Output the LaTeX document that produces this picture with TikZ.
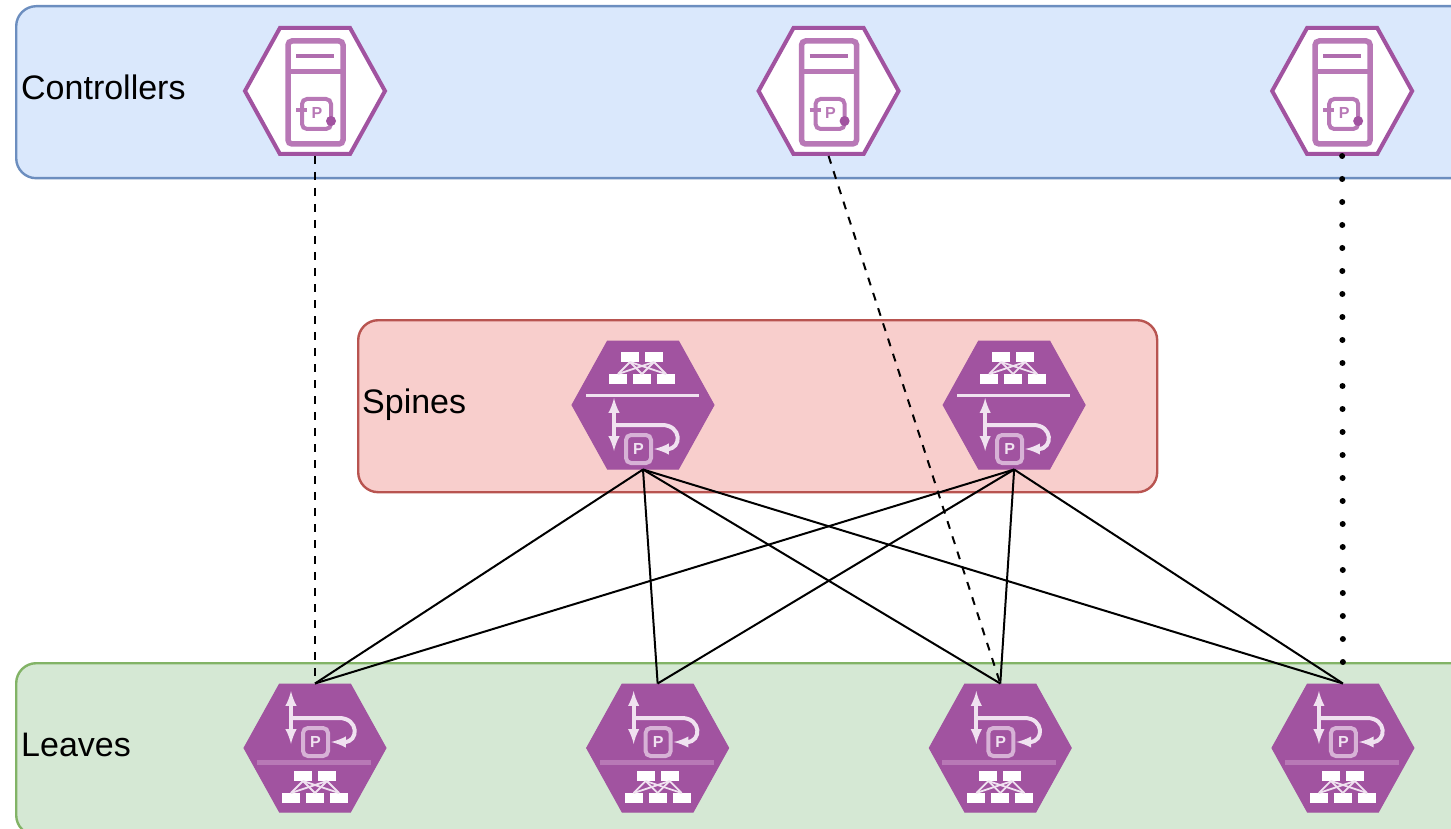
\documentclass[tikz,border=0pt]{standalone}
\usepackage{fontspec}
\setmainfont{Liberation Sans}
\usetikzlibrary{arrows,positioning,shapes.symbols}

\definecolor{hexpurple}{HTML}{A153A0}
\definecolor{iconlight}{HTML}{F0E2F0}
\definecolor{iconmid}{HTML}{B878B6}
\definecolor{ctrlfill}{HTML}{DAE8FC}
\definecolor{ctrlline}{HTML}{6C8EBF}
\definecolor{spinefill}{HTML}{F8CECC}
\definecolor{spineline}{HTML}{B85450}
\definecolor{leaffill}{HTML}{D5E8D4}
\definecolor{leafline}{HTML}{82B366}

\tikzset{
    pics/fabricicon/.style={code={
        \foreach \x in {-21,3} \fill[white] (\x,23) rectangle ++(18,10);
        \foreach \x in {-33,-9,15} \fill[white] (\x,45) rectangle ++(18,10);
        \foreach \a in {-12,12} \foreach \b in {-24,0,24}
            \draw[iconlight,line width=1.8pt] (\a,33) -- (\b,45);
    }},
    pics/routericon/.style={code={
        \draw[iconlight,line width=4pt,<->,>=latex] (-24,-57) -- (-24,-4);
        \draw[iconlight,line width=4pt,->,>=latex] (-24,-30) -- (24,-30)
            .. controls (44,-30) and (44,-6) .. (16,-6);
        \draw[iconmid!45!iconlight,line width=4pt,rounded corners=5pt] (-12,-20) rectangle (13,8);
        \node[iconlight,font=\fontsize{16}{18}\selectfont\bfseries,inner sep=0pt] (plabel) at (0.5,-6) {P};
    }},
    pics/servericon/.style={code={
        \draw[iconmid,line width=5.5pt,rounded corners=4pt] (-27,-50) rectangle (28,53);
        \draw[iconmid,line width=5pt] (-27,-19) -- (28,-19);
        \draw[hexpurple!85!white,line width=4pt] (-19,-35) -- (19,-35);
        \draw[iconmid,line width=4pt,rounded corners=5pt] (-13,8) rectangle (16,38);
        \draw[iconmid,line width=3.5pt] (-19,19) -- (-8,19);
        \fill[hexpurple] (16,30) circle (5pt);
        \node[iconmid,font=\fontsize{16}{18}\selectfont\bfseries,inner sep=0pt] (plabel) at (2,22) {P};
    }}
}

\begin{document}
\begin{tikzpicture}[
    x=1pt,y=-1pt,
    node distance=199.5pt,
    band/.style={rectangle,rounded corners=20pt,line width=2.4pt,anchor=north west,minimum height=172pt},
    hexnode/.style={shape=signal,signal to=east and west,signal pointer angle=122,draw=hexpurple,
        line width=4pt,inner sep=0pt,minimum width=140pt,minimum height=126pt},
    ctrlhex/.style={hexnode,fill=white},
    fabrichex/.style={hexnode,fill=hexpurple,line width=1pt,minimum width=142pt,minimum height=128pt},
    bandlabel/.style={anchor=base west,inner sep=0pt,font=\fontsize{34}{40}\selectfont,text=black},
    link/.style={black,line width=2pt},
    dashlink/.style={black,line width=2pt,dash pattern=on 8pt off 8pt},
    dotlink/.style={black,line width=6pt,line cap=round,dash pattern=on 0pt off 23pt}
]
    \path[use as bounding box,clip] (0,0) rectangle (1451,829);

    \node[band,fill=ctrlfill,draw=ctrlline,minimum width=1500pt] (ctrlband) at (15,5) {};
    \node[band,fill=spinefill,draw=spineline,minimum width=799pt] (spineband) at (357,319) {};
    \node[band,fill=leaffill,draw=leafline,minimum width=1500pt] (leafband) at (15,662) {};

    \node[bandlabel] (ctrllabel) at (21,100) {Controllers};
    \node[bandlabel] (spinelabel) at (362,413) {Spines};
    \node[bandlabel] (leaflabel) at (21,756) {Leaves};

    \node[ctrlhex] (c1) at (315,91) {};
    \node[ctrlhex] (c2) [right=369pt of c1] {};
    \node[ctrlhex] (c3) [right=369pt of c2] {};

    \node[fabrichex] (s1) at (643,405) {};
    \node[fabrichex] (s2) [right=228pt of s1] {};

    \node[fabrichex] (l1) at (315,748) {};
    \node[fabrichex] (l2) [right=of l1] {};
    \node[fabrichex] (l3) [right=of l2] {};
    \node[fabrichex] (l4) [right=of l3] {};

    \foreach \c in {c1,c2,c3} \pic at (\c) {servericon};
    \foreach \s in {s1,s2} {
        \pic[shift={(-1,-76)}] at (\s) {fabricicon};
        \pic[shift={(-5,50)}] at (\s) {routericon};
        \draw[iconlight,line width=3pt] ([xshift=-57pt,yshift=10pt]\s.center) -- ([xshift=56pt,yshift=10pt]\s.center);
    }
    \foreach \l in {l1,l2,l3,l4} {
        \pic at (\l) {fabricicon};
        \pic at (\l) {routericon};
        \draw[iconmid,line width=5pt] ([xshift=-58pt,yshift=-14pt]\l.center) -- ([xshift=56pt,yshift=-14pt]\l.center);
    }

    \foreach \s in {s1,s2} \foreach \l in {l1,l2,l3,l4}
        \draw[link] (\s.south) -- (\l.north);

    \draw[dashlink] (c1.south) -- (l1.north);
    \draw[dashlink] (c2.south) -- (l3.north);
    \draw[dotlink] (c3.south) -- (l4.north);
\end{tikzpicture}
\end{document}
